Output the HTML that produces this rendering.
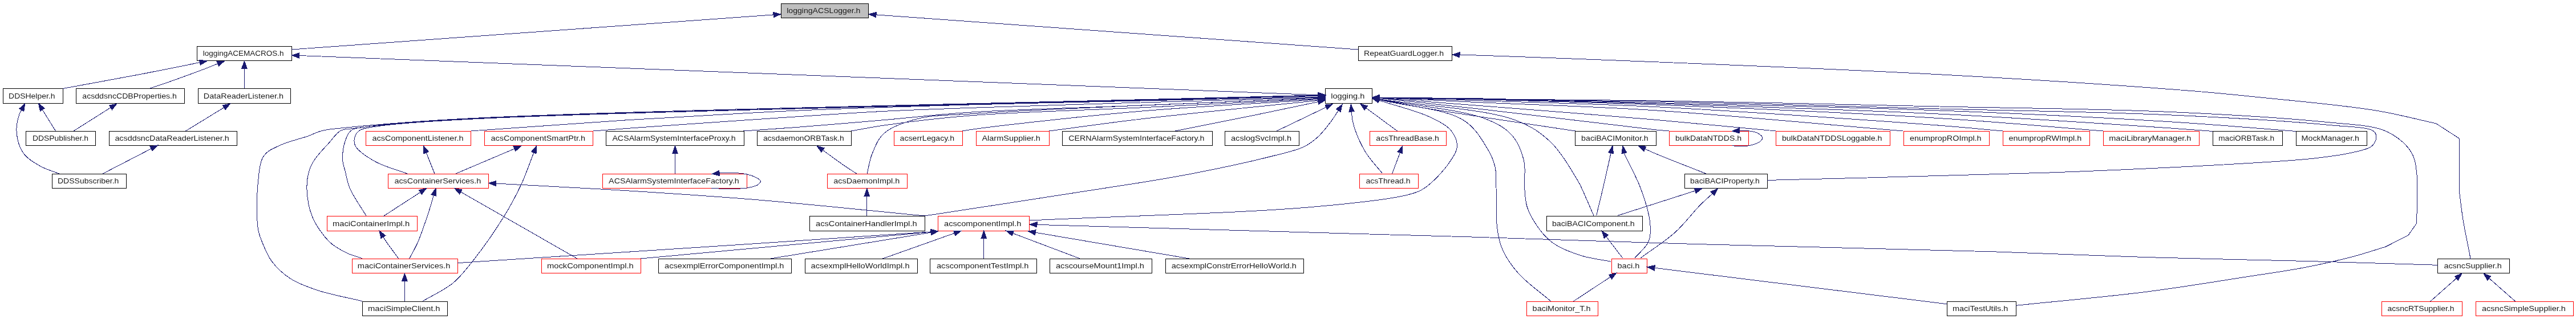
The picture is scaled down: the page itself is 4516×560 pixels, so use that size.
<!DOCTYPE html><html><head><meta charset="utf-8"><style>html,body{margin:0;padding:0;background:#fff;}svg{display:block;will-change:transform;}text{font-family:"Liberation Sans",sans-serif;font-size:12.4px;fill:#1c1c1c;}</style></head><body>
<svg width="4516" height="560" viewBox="0 0 4516 560">
<rect x="0" y="0" width="4516" height="560" fill="#fff"/>
<rect x="1369.1" y="6.4" width="153.5" height="25.2" fill="#bfbfbf" stroke="#000000" stroke-width="1" shape-rendering="crispEdges"/>
<text x="1379.2" y="23.2" textLength="129.2" lengthAdjust="spacingAndGlyphs">loggingACSLogger.h</text>
<rect x="345.2" y="81.1" width="166.0" height="25.2" fill="#ffffff" stroke="#000000" stroke-width="1" shape-rendering="crispEdges"/>
<text x="355.8" y="97.9" textLength="141.8" lengthAdjust="spacingAndGlyphs">loggingACEMACROS.h</text>
<rect x="2381.0" y="81.1" width="164.5" height="25.2" fill="#ffffff" stroke="#000000" stroke-width="1" shape-rendering="crispEdges"/>
<text x="2391.0" y="97.9" textLength="140.0" lengthAdjust="spacingAndGlyphs">RepeatGuardLogger.h</text>
<rect x="5.0" y="155.8" width="105.5" height="25.2" fill="#ffffff" stroke="#000000" stroke-width="1" shape-rendering="crispEdges"/>
<text x="15.1" y="172.6" textLength="81.3" lengthAdjust="spacingAndGlyphs">DDSHelper.h</text>
<rect x="133.2" y="155.8" width="190.3" height="25.2" fill="#ffffff" stroke="#000000" stroke-width="1" shape-rendering="crispEdges"/>
<text x="144.3" y="172.6" textLength="165.6" lengthAdjust="spacingAndGlyphs">acsddsncCDBProperties.h</text>
<rect x="347.2" y="155.8" width="162.5" height="25.2" fill="#ffffff" stroke="#000000" stroke-width="1" shape-rendering="crispEdges"/>
<text x="356.8" y="172.6" textLength="140.3" lengthAdjust="spacingAndGlyphs">DataReaderListener.h</text>
<rect x="2323.5" y="155.8" width="82.0" height="25.2" fill="#ffffff" stroke="#000000" stroke-width="1" shape-rendering="crispEdges"/>
<text x="2333.2" y="172.6" textLength="59.2" lengthAdjust="spacingAndGlyphs">logging.h</text>
<rect x="45.9" y="230.5" width="121.6" height="25.2" fill="#ffffff" stroke="#000000" stroke-width="1" shape-rendering="crispEdges"/>
<text x="57.0" y="247.3" textLength="98.0" lengthAdjust="spacingAndGlyphs">DDSPublisher.h</text>
<rect x="191.3" y="230.5" width="224.0" height="25.2" fill="#ffffff" stroke="#000000" stroke-width="1" shape-rendering="crispEdges"/>
<text x="201.4" y="247.3" textLength="200.3" lengthAdjust="spacingAndGlyphs">acsddsncDataReaderListener.h</text>
<rect x="641.0" y="230.5" width="184.6" height="25.2" fill="#ffffff" stroke="#ff0000" stroke-width="1" shape-rendering="crispEdges"/>
<text x="652.5" y="247.3" textLength="160.0" lengthAdjust="spacingAndGlyphs">acsComponentListener.h</text>
<rect x="849.4" y="230.5" width="190.2" height="25.2" fill="#ffffff" stroke="#ff0000" stroke-width="1" shape-rendering="crispEdges"/>
<text x="860.5" y="247.3" textLength="165.5" lengthAdjust="spacingAndGlyphs">acsComponentSmartPtr.h</text>
<rect x="1062.3" y="230.5" width="241.7" height="25.2" fill="#ffffff" stroke="#000000" stroke-width="1" shape-rendering="crispEdges"/>
<text x="1073.4" y="247.3" textLength="216.3" lengthAdjust="spacingAndGlyphs">ACSAlarmSystemInterfaceProxy.h</text>
<rect x="1327.3" y="230.5" width="165.0" height="25.2" fill="#ffffff" stroke="#000000" stroke-width="1" shape-rendering="crispEdges"/>
<text x="1337.9" y="247.3" textLength="141.8" lengthAdjust="spacingAndGlyphs">acsdaemonORBTask.h</text>
<rect x="1567.5" y="230.5" width="119.5" height="25.2" fill="#ffffff" stroke="#ff0000" stroke-width="1" shape-rendering="crispEdges"/>
<text x="1577.6" y="247.3" textLength="95.4" lengthAdjust="spacingAndGlyphs">acserrLegacy.h</text>
<rect x="1711.3" y="230.5" width="128.2" height="25.2" fill="#ffffff" stroke="#ff0000" stroke-width="1" shape-rendering="crispEdges"/>
<text x="1721.4" y="247.3" textLength="102.5" lengthAdjust="spacingAndGlyphs">AlarmSupplier.h</text>
<rect x="1862.2" y="230.5" width="263.4" height="25.2" fill="#ffffff" stroke="#000000" stroke-width="1" shape-rendering="crispEdges"/>
<text x="1873.3" y="247.3" textLength="238.2" lengthAdjust="spacingAndGlyphs">CERNAlarmSystemInterfaceFactory.h</text>
<rect x="2147.3" y="230.5" width="130.2" height="25.2" fill="#ffffff" stroke="#000000" stroke-width="1" shape-rendering="crispEdges"/>
<text x="2158.0" y="247.3" textLength="106.0" lengthAdjust="spacingAndGlyphs">acslogSvcImpl.h</text>
<rect x="2401.2" y="230.5" width="134.2" height="25.2" fill="#ffffff" stroke="#ff0000" stroke-width="1" shape-rendering="crispEdges"/>
<text x="2412.3" y="247.3" textLength="110.5" lengthAdjust="spacingAndGlyphs">acsThreadBase.h</text>
<rect x="2761.0" y="230.5" width="142.3" height="25.2" fill="#ffffff" stroke="#000000" stroke-width="1" shape-rendering="crispEdges"/>
<text x="2772.1" y="247.3" textLength="117.6" lengthAdjust="spacingAndGlyphs">baciBACIMonitor.h</text>
<rect x="2926.0" y="230.5" width="139.8" height="25.2" fill="#ffffff" stroke="#ff0000" stroke-width="1" shape-rendering="crispEdges"/>
<text x="2937.1" y="247.3" textLength="116.1" lengthAdjust="spacingAndGlyphs">bulkDataNTDDS.h</text>
<rect x="3113.3" y="230.5" width="199.8" height="25.2" fill="#ffffff" stroke="#ff0000" stroke-width="1" shape-rendering="crispEdges"/>
<text x="3123.9" y="247.3" textLength="175.6" lengthAdjust="spacingAndGlyphs">bulkDataNTDDSLoggable.h</text>
<rect x="3337.3" y="230.5" width="149.9" height="25.2" fill="#ffffff" stroke="#ff0000" stroke-width="1" shape-rendering="crispEdges"/>
<text x="3348.0" y="247.3" textLength="125.6" lengthAdjust="spacingAndGlyphs">enumpropROImpl.h</text>
<rect x="3511.0" y="230.5" width="152.3" height="25.2" fill="#ffffff" stroke="#ff0000" stroke-width="1" shape-rendering="crispEdges"/>
<text x="3521.5" y="247.3" textLength="127.7" lengthAdjust="spacingAndGlyphs">enumpropRWImpl.h</text>
<rect x="3687.0" y="230.5" width="168.6" height="25.2" fill="#ffffff" stroke="#ff0000" stroke-width="1" shape-rendering="crispEdges"/>
<text x="3697.2" y="247.3" textLength="144.3" lengthAdjust="spacingAndGlyphs">maciLibraryManager.h</text>
<rect x="3879.1" y="230.5" width="122.2" height="25.2" fill="#ffffff" stroke="#000000" stroke-width="1" shape-rendering="crispEdges"/>
<text x="3889.2" y="247.3" textLength="97.9" lengthAdjust="spacingAndGlyphs">maciORBTask.h</text>
<rect x="4025.0" y="230.5" width="124.6" height="25.2" fill="#ffffff" stroke="#000000" stroke-width="1" shape-rendering="crispEdges"/>
<text x="4034.6" y="247.3" textLength="101.4" lengthAdjust="spacingAndGlyphs">MockManager.h</text>
<rect x="91.3" y="305.2" width="130.2" height="25.2" fill="#ffffff" stroke="#000000" stroke-width="1" shape-rendering="crispEdges"/>
<text x="101.0" y="322.0" textLength="107.4" lengthAdjust="spacingAndGlyphs">DDSSubscriber.h</text>
<rect x="680.3" y="305.2" width="176.1" height="25.2" fill="#ffffff" stroke="#ff0000" stroke-width="1" shape-rendering="crispEdges"/>
<text x="691.4" y="322.0" textLength="151.9" lengthAdjust="spacingAndGlyphs">acsContainerServices.h</text>
<rect x="1056.0" y="305.2" width="253.4" height="25.2" fill="#ffffff" stroke="#ff0000" stroke-width="1" shape-rendering="crispEdges"/>
<text x="1067.1" y="322.0" textLength="228.6" lengthAdjust="spacingAndGlyphs">ACSAlarmSystemInterfaceFactory.h</text>
<rect x="1450.0" y="305.2" width="140.5" height="25.2" fill="#ffffff" stroke="#ff0000" stroke-width="1" shape-rendering="crispEdges"/>
<text x="1461.3" y="322.0" textLength="116.0" lengthAdjust="spacingAndGlyphs">acsDaemonImpl.h</text>
<rect x="2383.3" y="305.2" width="102.9" height="25.2" fill="#ffffff" stroke="#ff0000" stroke-width="1" shape-rendering="crispEdges"/>
<text x="2394.4" y="322.0" textLength="78.2" lengthAdjust="spacingAndGlyphs">acsThread.h</text>
<rect x="2953.5" y="305.2" width="144.9" height="25.2" fill="#ffffff" stroke="#000000" stroke-width="1" shape-rendering="crispEdges"/>
<text x="2963.1" y="322.0" textLength="121.7" lengthAdjust="spacingAndGlyphs">baciBACIProperty.h</text>
<rect x="573.3" y="379.9" width="158.0" height="25.2" fill="#ffffff" stroke="#ff0000" stroke-width="1" shape-rendering="crispEdges"/>
<text x="582.9" y="396.7" textLength="135.3" lengthAdjust="spacingAndGlyphs">maciContainerImpl.h</text>
<rect x="1419.4" y="379.9" width="201.9" height="25.2" fill="#ffffff" stroke="#000000" stroke-width="1" shape-rendering="crispEdges"/>
<text x="1430.0" y="396.7" textLength="177.6" lengthAdjust="spacingAndGlyphs">acsContainerHandlerImpl.h</text>
<rect x="1644.5" y="379.9" width="159.5" height="25.2" fill="#ffffff" stroke="#ff0000" stroke-width="1" shape-rendering="crispEdges"/>
<text x="1655.0" y="396.7" textLength="135.3" lengthAdjust="spacingAndGlyphs">acscomponentImpl.h</text>
<rect x="2711.3" y="379.9" width="168.1" height="25.2" fill="#ffffff" stroke="#000000" stroke-width="1" shape-rendering="crispEdges"/>
<text x="2720.9" y="396.7" textLength="144.8" lengthAdjust="spacingAndGlyphs">baciBACIComponent.h</text>
<rect x="617.2" y="454.6" width="185.2" height="25.2" fill="#ffffff" stroke="#ff0000" stroke-width="1" shape-rendering="crispEdges"/>
<text x="626.8" y="471.4" textLength="162.5" lengthAdjust="spacingAndGlyphs">maciContainerServices.h</text>
<rect x="949.3" y="454.6" width="174.1" height="25.2" fill="#ffffff" stroke="#ff0000" stroke-width="1" shape-rendering="crispEdges"/>
<text x="958.9" y="471.4" textLength="151.9" lengthAdjust="spacingAndGlyphs">mockComponentImpl.h</text>
<rect x="1154.0" y="454.6" width="233.7" height="25.2" fill="#ffffff" stroke="#000000" stroke-width="1" shape-rendering="crispEdges"/>
<text x="1165.1" y="471.4" textLength="209.4" lengthAdjust="spacingAndGlyphs">acsexmplErrorComponentImpl.h</text>
<rect x="1411.4" y="454.6" width="196.8" height="25.2" fill="#ffffff" stroke="#000000" stroke-width="1" shape-rendering="crispEdges"/>
<text x="1421.5" y="471.4" textLength="173.1" lengthAdjust="spacingAndGlyphs">acsexmplHelloWorldImpl.h</text>
<rect x="1630.9" y="454.6" width="186.2" height="25.2" fill="#ffffff" stroke="#000000" stroke-width="1" shape-rendering="crispEdges"/>
<text x="1642.0" y="471.4" textLength="161.5" lengthAdjust="spacingAndGlyphs">acscomponentTestImpl.h</text>
<rect x="1840.3" y="454.6" width="179.2" height="25.2" fill="#ffffff" stroke="#000000" stroke-width="1" shape-rendering="crispEdges"/>
<text x="1851.0" y="471.4" textLength="154.9" lengthAdjust="spacingAndGlyphs">acscourseMount1Impl.h</text>
<rect x="2043.2" y="454.6" width="242.3" height="25.2" fill="#ffffff" stroke="#000000" stroke-width="1" shape-rendering="crispEdges"/>
<text x="2053.8" y="471.4" textLength="219.0" lengthAdjust="spacingAndGlyphs">acsexmplConstrErrorHelloWorld.h</text>
<rect x="2825.4" y="454.6" width="62.1" height="25.2" fill="#ffffff" stroke="#ff0000" stroke-width="1" shape-rendering="crispEdges"/>
<text x="2835.5" y="471.4" textLength="38.9" lengthAdjust="spacingAndGlyphs">baci.h</text>
<rect x="4273.3" y="454.6" width="126.2" height="25.2" fill="#ffffff" stroke="#000000" stroke-width="1" shape-rendering="crispEdges"/>
<text x="4284.4" y="471.4" textLength="101.4" lengthAdjust="spacingAndGlyphs">acsncSupplier.h</text>
<rect x="635.4" y="529.3" width="149.4" height="25.2" fill="#ffffff" stroke="#000000" stroke-width="1" shape-rendering="crispEdges"/>
<text x="645.0" y="546.1" textLength="126.6" lengthAdjust="spacingAndGlyphs">maciSimpleClient.h</text>
<rect x="2676.0" y="529.3" width="125.7" height="25.2" fill="#ffffff" stroke="#ff0000" stroke-width="1" shape-rendering="crispEdges"/>
<text x="2686.6" y="546.1" textLength="102.0" lengthAdjust="spacingAndGlyphs">baciMonitor_T.h</text>
<rect x="3413.4" y="529.3" width="121.1" height="25.2" fill="#ffffff" stroke="#000000" stroke-width="1" shape-rendering="crispEdges"/>
<text x="3423.0" y="546.1" textLength="97.4" lengthAdjust="spacingAndGlyphs">maciTestUtils.h</text>
<rect x="4175.4" y="529.3" width="141.3" height="25.2" fill="#ffffff" stroke="#ff0000" stroke-width="1" shape-rendering="crispEdges"/>
<text x="4185.5" y="546.1" textLength="117.0" lengthAdjust="spacingAndGlyphs">acsncRTSupplier.h</text>
<rect x="4340.4" y="529.3" width="171.1" height="25.2" fill="#ffffff" stroke="#ff0000" stroke-width="1" shape-rendering="crispEdges"/>
<text x="4351.0" y="546.1" textLength="146.9" lengthAdjust="spacingAndGlyphs">acsncSimpleSupplier.h</text>
<g fill="none" stroke="#191970" stroke-width="1" shape-rendering="crispEdges"><path d="M511.0,87.0 L1356.0,25.9"/><path d="M2381.0,87.0 L1536.0,25.9"/><path d="M2323.0,167.3 L524.5,97.5"/><path d="M4331.2,454.6 C4326.8,431.5 4321.3,406.3 4317.9,385.3 C4315.1,367.9 4313.6,353.3 4311.5,337.3 M4311.5,337.3 L4311.5,243.3 M4311.5,243.3 L4270.8,216.8 M4270.8,216.8 C4235.0,209.1 4205.4,200.6 4163.3,193.7 C4104.5,184.1 4009.2,175.8 3950.0,169.7 C3907.8,165.3 3890.2,163.4 3841.5,159.5 C3741.8,151.6 3557.7,139.2 3385.0,130.0 C3158.6,118.0 2697.4,100.7 2600.0,97.4 C2577.8,96.6 2572.7,96.7 2559.0,96.3"/><path d="M110.0,155.5 C156.7,146.9 207.2,137.9 250.0,129.7 C286.3,122.7 316.9,116.3 350.4,109.6"/><path d="M263.2,155.1 C275.1,151.0 285.4,147.7 298.9,142.9 C316.6,136.6 344.8,126.3 360.0,120.5 C369.1,117.0 374.4,114.7 381.6,111.8"/><path d="M428.4,155.0 L428.4,120.0"/><path d="M97.5,230.0 L74.3,192.6"/><path d="M129.0,230.0 L194.0,188.9"/><path d="M325.5,230.0 L392.6,188.8"/><path d="M103.8,305.0 C92.5,300.4 80.5,297.4 70.0,291.3 C59.3,285.1 47.2,278.0 40.4,268.0 C33.4,257.7 29.7,242.0 29.0,230.0 C28.4,219.6 31.8,206.9 34.0,200.4 C35.1,197.0 36.5,195.5 37.8,193.0"/><path d="M180.0,305.0 L265.1,261.0"/><path d="M825.6,230.0 C917.1,223.6 1041.7,214.4 1100.0,210.7 C1127.2,209.0 1133.3,208.8 1160.0,207.3 C1213.3,204.3 1315.5,197.7 1400.0,194.0 C1494.4,189.8 1600.0,186.8 1700.0,184.0 C1800.0,181.2 1899.1,179.3 2000.0,177.0 C2102.6,174.7 2207.0,172.5 2310.5,170.3"/><path d="M1039.6,230.0 C1059.7,228.5 1079.9,226.9 1100.0,225.4 C1120.0,223.9 1133.3,223.0 1160.0,221.1 C1213.3,217.4 1329.4,209.2 1400.0,204.6 C1455.8,200.9 1500.0,197.8 1550.0,195.3 C1600.0,192.8 1641.4,191.5 1700.0,189.4 C1782.8,186.5 1899.1,183.0 2000.0,180.0 C2102.6,177.0 2207.0,174.2 2310.5,171.4"/><path d="M1303.4,230.0 C1335.6,227.7 1364.3,226.0 1400.0,223.2 C1444.5,219.8 1500.0,214.9 1550.0,210.6 C1600.0,206.3 1641.4,201.0 1700.0,197.2 C1782.8,191.8 1899.1,189.2 2000.0,185.1 C2102.6,181.0 2207.0,176.7 2310.5,172.5"/><path d="M1492.3,230.0 C1511.5,226.7 1526.2,223.4 1550.0,220.0 C1588.2,214.5 1641.3,207.7 1700.0,203.0 C1782.8,196.4 1899.1,193.7 2000.0,188.9 C2102.6,184.0 2207.0,178.7 2310.5,173.6"/><path d="M1687.0,230.0 C1698.0,228.3 1703.6,227.1 1720.0,225.0 C1767.7,218.9 1904.2,203.4 2000.0,195.2 C2100.7,186.5 2207.0,181.6 2310.5,174.9"/><path d="M1839.5,230.0 C1893.0,223.0 1937.7,216.3 2000.0,209.0 C2086.5,198.8 2207.0,187.2 2310.6,176.4"/><path d="M2060.0,230.0 C2106.7,220.7 2156.1,211.0 2200.0,202.0 C2239.1,194.0 2273.9,186.5 2310.8,178.7"/><path d="M2238.0,230.0 L2324.9,188.2"/><path d="M2449.6,230.0 L2395.0,189.7"/><path d="M2761.5,230.0 C2674.3,216.7 2562.6,200.7 2500.0,190.0 C2464.8,184.0 2445.2,179.6 2417.8,174.4"/><path d="M2926.0,230.0 C2917.3,229.2 2913.4,229.0 2900.0,227.6 C2854.5,222.8 2687.6,201.9 2600.0,192.0 C2531.8,184.3 2478.6,178.9 2417.9,172.4"/><path d="M3113.0,230.0 C3042.0,223.4 2977.1,216.8 2900.0,210.1 C2808.6,202.2 2687.6,192.9 2600.0,186.0 C2531.8,180.6 2478.6,176.7 2418.0,172.0"/><path d="M3336.4,230.0 C3190.9,217.9 3031.9,202.2 2900.0,193.7 C2790.7,186.7 2687.6,184.0 2600.0,180.0 C2531.8,176.9 2478.7,174.4 2418.0,171.6"/><path d="M3510.5,230.0 C3473.7,226.7 3450.1,224.1 3400.0,220.2 C3293.4,212.0 3045.5,194.8 2900.0,187.5 C2787.3,181.8 2687.6,179.9 2600.0,177.0 C2531.8,174.8 2478.7,173.3 2418.0,171.4"/><path d="M3687.0,230.0 C3591.3,222.5 3508.9,214.4 3400.0,207.6 C3256.4,198.6 3045.5,189.5 2900.0,183.9 C2787.3,179.6 2687.6,177.2 2600.0,175.0 C2531.8,173.3 2478.7,172.5 2418.0,171.3"/><path d="M3879.5,230.5 C3853.0,228.5 3836.7,227.1 3800.0,224.6 C3717.8,219.0 3540.8,207.0 3400.0,200.1 C3242.7,192.4 3045.5,186.5 2900.0,181.9 C2787.3,178.4 2687.6,175.8 2600.0,174.0 C2531.8,172.6 2478.7,172.1 2418.0,171.2"/><path d="M4025.5,230.5 C3950.3,224.8 3885.9,218.8 3800.0,213.5 C3685.7,206.4 3540.8,199.3 3400.0,194.0 C3242.7,188.0 3045.5,184.3 2900.0,180.5 C2787.3,177.6 2687.6,174.5 2600.0,173.0 C2531.8,171.8 2478.7,171.8 2418.0,171.1"/><path d="M715.0,305.3 C696.0,298.1 674.1,292.7 658.0,283.7 C644.4,276.1 628.5,265.4 623.5,257.0 C620.7,252.2 620.5,247.5 621.4,243.0 C622.3,238.3 625.0,232.9 629.6,229.5 C636.1,224.8 645.6,224.3 660.0,222.0 C693.4,216.6 744.7,213.4 829.0,209.0 C1078.3,196.0 1816.7,181.9 2310.5,168.4"/><path d="M762.0,305.0 L747.3,268.1"/><path d="M798.7,305.0 L902.0,261.1"/><path d="M1183.5,305.0 L1183.5,269.0"/><path d="M1502.0,305.0 C1494.3,300.0 1487.5,295.8 1479.0,290.0 C1468.2,282.5 1454.7,272.4 1442.5,263.6"/><path d="M1520.0,305.0 C1523.0,293.3 1524.3,281.4 1529.0,270.0 C1534.0,257.7 1539.0,243.7 1550.0,234.0 C1563.8,221.8 1587.5,213.9 1610.0,208.2 C1636.5,201.5 1661.2,202.7 1700.0,200.0 C1770.7,195.0 1899.1,189.5 2000.0,185.0 C2102.6,180.4 2207.0,176.7 2310.5,172.5"/><path d="M2423.5,304.4 C2414.3,293.0 2403.7,282.2 2396.0,270.3 C2388.7,259.1 2382.6,246.1 2378.3,235.2 C2374.8,226.3 2372.2,217.3 2370.8,210.1 C2369.8,204.8 2369.9,200.7 2369.5,195.9"/><path d="M2440.5,305.0 L2454.4,268.2"/><path d="M2991.0,305.0 C2961.7,293.3 2921.6,277.9 2903.0,270.0 C2894.2,266.3 2890.2,264.2 2883.8,261.4"/><path d="M3098.4,316.4 C3265.6,311.9 3447.8,308.5 3600.0,302.8 C3727.2,298.0 3867.0,291.1 3950.0,286.0 C3995.8,283.2 4024.9,281.6 4056.6,278.0 C4082.3,275.1 4107.4,271.8 4126.0,267.3 C4138.9,264.2 4151.4,262.3 4158.0,256.6 C4162.8,252.4 4166.0,245.4 4166.0,240.6 C4166.0,236.7 4164.7,232.9 4160.6,230.0 C4149.9,222.4 4116.4,222.8 4082.0,219.4 C4017.1,213.0 3902.2,206.3 3800.0,201.7 C3678.3,196.3 3540.8,194.7 3400.0,191.0 C3242.6,186.9 3065.1,181.3 2900.0,178.2 C2737.9,175.1 2578.7,174.2 2418.0,172.2"/><path d="M3534.2,536.3 C3610.6,528.3 3692.2,521.3 3763.4,512.2 C3825.9,504.2 3888.8,493.6 3939.0,485.8 C3976.7,480.0 4006.3,476.1 4038.0,470.0 C4067.6,464.3 4097.6,457.6 4123.3,450.9 C4144.8,445.3 4162.4,439.2 4182.0,433.3 M4182.0,433.3 L4221.9,413.0 M4221.9,413.0 L4236.8,391.7 M4236.8,391.7 C4236.8,362.7 4239.1,326.4 4236.8,304.6 C4235.4,291.2 4234.4,282.1 4230.0,272.6 C4225.8,263.5 4219.3,255.7 4211.3,248.6 C4202.0,240.4 4191.3,232.9 4176.0,227.6 C4152.8,219.5 4121.8,218.7 4082.0,214.7 C4013.3,207.8 3902.2,200.8 3800.0,196.3 C3678.3,190.9 3540.8,190.1 3400.0,187.0 C3242.6,183.6 3065.1,179.3 2900.0,176.8 C2737.9,174.4 2578.7,173.7 2418.0,172.1"/><path d="M641.8,378.6 C632.3,362.6 619.5,345.1 613.3,330.5 C608.7,319.5 607.2,308.6 605.0,300.0 C603.4,293.7 601.5,289.9 601.0,283.7 C600.3,275.5 600.6,264.1 603.0,255.0 C605.3,246.0 608.6,234.8 615.0,229.5 C621.1,224.4 627.6,225.1 640.0,223.0 C673.5,217.4 736.1,213.3 829.0,208.5 C1088.8,195.0 1816.7,181.4 2310.5,167.9"/><path d="M672.4,379.4 L736.8,337.6"/><path d="M1519.8,379.0 L1519.8,344.0"/><path d="M1621.0,379.0 C1520.7,369.4 1415.8,358.1 1320.0,350.2 C1232.7,343.0 1148.2,337.8 1069.4,332.9 C999.0,328.6 936.2,325.7 869.6,322.1"/><path d="M1621.0,379.0 C1748.3,359.3 1917.7,334.1 2003.0,320.0 C2046.0,312.9 2065.7,309.7 2100.0,302.9 C2139.2,295.1 2191.3,284.0 2225.4,275.3 C2249.2,269.2 2270.3,265.1 2285.6,257.8 C2296.3,252.7 2302.7,247.5 2310.6,240.2 C2319.5,232.0 2329.3,218.8 2335.7,210.1 C2340.2,204.0 2342.7,199.3 2346.2,193.9"/><path d="M1805.0,387.0 C1970.0,379.1 2178.5,374.1 2300.0,363.4 C2371.3,357.1 2436.1,350.5 2469.0,341.7 C2483.2,337.9 2488.5,336.2 2498.5,329.4 C2512.3,319.9 2531.4,299.2 2541.0,285.2 C2547.9,275.0 2554.3,265.5 2554.5,255.9 C2554.7,246.8 2550.2,237.0 2543.8,229.2 C2535.8,219.5 2522.2,212.8 2506.5,205.3 C2483.7,194.5 2447.1,185.8 2417.4,176.1"/><path d="M2798.6,378.4 C2802.5,362.3 2806.3,347.1 2810.3,330.0 C2814.8,310.8 2819.5,289.1 2824.1,268.7"/><path d="M2793.9,378.4 C2786.8,362.3 2777.5,340.1 2772.7,330.0 C2770.5,325.3 2770.4,324.6 2767.5,319.8 C2759.8,306.8 2738.9,269.0 2719.6,250.5 C2701.3,233.0 2685.3,221.6 2655.7,210.6 C2602.8,191.0 2497.1,186.2 2417.8,174.0"/><path d="M2836.0,378.4 L2971.6,335.0"/><path d="M635.3,453.8 C626.1,450.5 616.9,448.5 607.8,444.0 C597.8,439.1 587.1,433.8 578.0,425.0 C566.8,414.2 554.7,397.2 548.0,381.5 C541.5,366.3 538.6,347.3 538.0,332.6 C537.5,320.7 539.2,309.4 542.0,300.0 C544.3,292.2 547.3,286.7 552.0,279.6 C558.0,270.5 568.7,259.8 576.6,251.0 C583.6,243.2 589.5,233.6 597.0,229.5 C603.2,226.1 606.7,227.2 617.0,225.8 C650.2,221.4 726.3,213.7 829.0,208.0 C1100.0,192.9 1816.7,180.9 2310.5,167.4"/><path d="M698.8,453.8 C691.7,444.2 682.3,431.9 677.6,425.0 C675.0,421.2 673.8,419.0 671.9,416.0"/><path d="M717.8,453.8 C722.7,444.2 727.7,436.3 732.6,425.0 C739.1,410.0 746.8,386.4 751.8,371.3 C755.4,360.4 757.5,352.4 760.3,343.0"/><path d="M802.4,461.6 C968.3,450.8 1150.9,439.2 1300.0,429.3 C1421.8,421.2 1521.4,414.4 1632.0,406.9"/><path d="M1011.9,454.0 L807.9,337.0"/><path d="M1123.4,454.0 L1632.1,407.2"/><path d="M1351.0,454.0 L1632.2,408.1"/><path d="M1547.6,454.0 L1673.2,409.4"/><path d="M1724.8,454.0 L1724.8,418.0"/><path d="M1893.3,454.0 L1775.8,409.6"/><path d="M2085.0,454.0 L1815.3,408.2"/><path d="M2824.4,459.3 C2805.6,455.4 2786.0,453.8 2768.0,447.5 C2750.0,441.2 2730.9,434.3 2716.3,421.7 C2700.7,408.2 2685.6,384.8 2678.7,367.6 C2673.4,354.6 2673.9,343.3 2672.7,330.0 C2671.3,315.1 2675.2,297.8 2671.6,282.5 C2667.9,266.8 2661.3,249.4 2650.3,237.2 C2638.7,224.3 2624.6,216.5 2602.4,208.0 C2561.8,192.5 2479.3,185.6 2417.8,174.3"/><path d="M2844.6,453.0 L2815.9,415.5"/><path d="M2865.8,453.1 C2873.9,443.4 2885.8,434.8 2890.2,424.0 C2894.3,413.9 2893.8,403.6 2892.6,391.0 C2890.9,373.6 2883.4,349.9 2876.0,330.0 C2868.5,309.6 2849.2,275.0 2847.6,270.0 C2847.4,269.3 2847.4,269.2 2847.4,268.8"/><path d="M2876.0,453.0 C2896.3,437.9 2919.1,423.8 2937.0,407.6 C2953.4,392.8 2967.8,372.9 2980.0,360.6 C2988.4,352.1 2994.7,346.8 3002.1,339.9"/><path d="M4273.6,465.3 C4199.1,463.1 4129.2,460.8 4050.0,458.6 C3960.4,456.2 3856.9,454.4 3763.4,451.6 C3673.7,448.9 3602.6,445.2 3500.0,442.0 C3355.9,437.5 3142.0,433.3 2980.0,428.7 C2837.9,424.6 2687.1,419.2 2580.0,416.0 C2508.2,413.9 2477.1,413.2 2400.0,411.0 C2261.3,407.1 2012.0,399.9 1818.0,394.4"/><path d="M1247.4,330.5 C1249.7,330.6 1251.0,330.8 1254.3,330.9 C1262.9,331.1 1291.6,331.4 1300.9,330.9 C1304.9,330.7 1306.1,330.7 1309.5,330.0 C1314.6,329.0 1324.4,327.3 1328.4,324.5 C1331.0,322.6 1333.7,319.8 1333.3,317.6 C1332.8,314.8 1325.7,311.8 1321.6,309.8 C1317.7,307.9 1314.2,307.0 1309.5,306.0 C1303.2,304.7 1294.3,303.8 1287.0,303.4 C1280.0,303.0 1271.0,303.1 1266.4,303.4 C1264.0,303.5 1261.0,304.0 1261.0,304.0 C1261.0,304.0 1261.2,304.0 1261.2,304.0"/><path d="M3036.8,255.5 C3037.9,255.7 3038.6,255.8 3040.0,256.0 C3042.4,256.3 3046.4,257.0 3050.2,257.0 C3055.2,257.0 3061.7,256.7 3067.4,255.4 C3073.4,254.0 3081.7,251.8 3085.4,248.7 C3087.8,246.7 3090.0,243.9 3089.7,241.6 C3089.3,238.9 3084.9,235.7 3081.5,233.8 C3077.5,231.6 3071.6,230.6 3066.6,229.9 C3061.7,229.2 3054.3,229.8 3051.7,229.6 C3050.8,229.5 3050.2,229.3 3049.8,229.3 C3049.6,229.3 3049.5,229.3 3049.4,229.3"/><path d="M709.4,528.7 L709.4,493.0"/><path d="M635.3,528.7 C609.2,522.4 579.7,517.3 557.0,509.7 C538.5,503.5 522.1,497.6 508.3,488.5 C495.8,480.3 484.8,469.9 476.6,458.9 C468.9,448.6 463.8,435.4 459.6,425.0 C456.3,416.7 454.0,412.0 452.4,401.8 C449.5,383.0 449.9,343.3 452.4,320.0 C454.3,302.2 455.0,284.6 462.6,273.5 C469.0,264.2 479.8,260.4 491.0,255.0 C504.8,248.4 526.5,243.7 540.0,238.9 C549.6,235.5 555.3,231.8 564.4,229.5 C575.2,226.7 583.5,226.4 601.0,224.6 C644.4,220.1 719.7,213.1 829.0,207.5 C1107.2,193.3 1816.7,180.4 2310.5,166.9"/><path d="M741.0,528.7 C758.7,518.1 778.8,509.5 794.0,497.0 C808.2,485.3 817.3,472.7 830.0,456.7 C846.7,435.6 868.7,404.0 883.5,380.0 C895.8,360.1 905.2,342.3 914.0,323.3 C922.5,305.0 928.5,286.5 935.7,268.1"/><path d="M2758.3,529.0 L2823.2,486.2"/><path d="M2719.0,529.0 C2700.0,512.7 2676.8,496.7 2662.0,480.0 C2649.9,466.3 2640.2,452.2 2634.0,438.0 C2628.5,425.6 2626.7,415.1 2624.7,400.5 C2622.1,380.8 2623.8,349.7 2623.0,330.0 C2622.4,315.7 2623.7,304.6 2621.0,293.0 C2618.4,281.8 2614.6,272.5 2607.7,261.2 C2598.2,245.6 2586.5,223.9 2565.0,210.6 C2532.5,190.5 2466.8,186.9 2417.6,175.0"/><path d="M3413.0,533.7 L2900.8,470.3"/><path d="M4260.7,529.0 L4306.3,488.6"/><path d="M4409.6,529.0 L4363.8,488.6"/></g>
<g fill="#191970" stroke="#191970" stroke-width="1" shape-rendering="crispEdges"><polygon points="1369.0,25.0 1356.4,30.5 1355.7,21.3"/><polygon points="1523.0,25.0 1536.3,21.3 1535.6,30.5"/><polygon points="511.5,97.0 524.7,92.9 524.3,102.1"/><polygon points="2546.0,96.0 2559.1,91.7 2558.9,100.9"/><polygon points="363.1,107.0 351.3,114.1 349.4,105.0"/><polygon points="393.7,107.0 383.3,116.1 379.9,107.6"/><polygon points="428.4,107.0 433.0,120.0 423.8,120.0"/><polygon points="67.5,181.5 78.3,190.1 70.4,195.0"/><polygon points="205.0,182.0 196.5,192.8 191.6,185.1"/><polygon points="403.7,182.0 395.0,192.7 390.2,184.9"/><polygon points="43.8,181.5 41.9,195.2 33.7,190.9"/><polygon points="276.6,255.0 267.2,265.1 262.9,256.9"/><polygon points="2323.5,170.0 2310.6,174.9 2310.4,165.7"/><polygon points="2323.5,171.0 2310.6,176.0 2310.4,166.8"/><polygon points="2323.5,172.0 2310.7,177.1 2310.3,167.9"/><polygon points="2323.5,173.0 2310.7,178.2 2310.3,169.0"/><polygon points="2323.5,174.0 2310.8,179.4 2310.2,170.3"/><polygon points="2323.5,175.0 2311.1,180.9 2310.1,171.8"/><polygon points="2323.5,176.0 2311.7,183.2 2309.8,174.2"/><polygon points="2336.6,182.6 2326.9,192.4 2322.9,184.1"/><polygon points="2384.5,182.0 2397.7,186.0 2392.2,193.4"/><polygon points="2405.0,172.0 2418.6,169.9 2416.9,178.9"/><polygon points="2405.0,171.0 2418.4,167.8 2417.4,177.0"/><polygon points="2405.0,171.0 2418.3,167.4 2417.6,176.6"/><polygon points="2405.0,171.0 2418.2,167.0 2417.8,176.2"/><polygon points="2405.0,171.0 2418.1,166.8 2417.9,176.0"/><polygon points="2405.0,171.0 2418.1,166.7 2417.9,175.9"/><polygon points="2405.0,171.0 2418.1,166.6 2417.9,175.8"/><polygon points="2405.0,171.0 2418.0,166.5 2418.0,175.7"/><polygon points="2323.5,168.0 2310.6,173.0 2310.4,163.8"/><polygon points="742.5,256.0 751.6,266.4 743.0,269.8"/><polygon points="914.0,256.0 903.8,265.3 900.2,256.9"/><polygon points="1183.5,256.0 1188.1,269.0 1178.9,269.0"/><polygon points="1432.0,256.0 1445.2,259.9 1439.8,267.3"/><polygon points="2323.5,172.0 2310.7,177.1 2310.3,167.9"/><polygon points="2368.3,183.0 2374.1,195.5 2364.9,196.4"/><polygon points="2459.0,256.0 2458.7,269.8 2450.1,266.5"/><polygon points="2872.0,256.0 2885.7,257.2 2882.0,265.5"/><polygon points="2405.0,172.0 2418.1,167.6 2417.9,176.8"/><polygon points="2405.0,172.0 2418.0,167.5 2418.0,176.7"/><polygon points="2323.5,167.5 2310.6,172.5 2310.4,163.3"/><polygon points="747.7,330.5 739.3,341.4 734.3,333.7"/><polygon points="1519.8,331.0 1524.4,344.0 1515.2,344.0"/><polygon points="856.6,321.4 869.8,317.5 869.3,326.7"/><polygon points="2353.3,183.0 2350.1,196.4 2342.4,191.4"/><polygon points="2405.0,172.0 2418.8,171.7 2415.9,180.4"/><polygon points="2827.0,256.0 2828.6,269.7 2819.7,267.7"/><polygon points="2405.0,172.0 2418.5,169.4 2417.1,178.5"/><polygon points="2984.0,331.0 2973.0,339.3 2970.2,330.6"/><polygon points="2323.5,167.0 2310.6,172.0 2310.4,162.8"/><polygon points="665.0,405.0 675.8,413.5 668.0,418.5"/><polygon points="764.0,330.5 764.7,344.3 755.9,341.6"/><polygon points="1645.0,406.0 1632.3,411.5 1631.7,402.3"/><polygon points="796.6,330.5 810.2,333.0 805.6,341.0"/><polygon points="1645.0,406.0 1632.5,411.8 1631.6,402.6"/><polygon points="1645.0,406.0 1632.9,412.6 1631.4,403.6"/><polygon points="1685.4,405.0 1674.7,413.7 1671.6,405.0"/><polygon points="1724.8,405.0 1729.4,418.0 1720.2,418.0"/><polygon points="1763.6,405.0 1777.4,405.3 1774.1,413.9"/><polygon points="1802.5,406.0 1816.1,403.6 1814.5,412.7"/><polygon points="2405.0,172.0 2418.6,169.8 2417.0,178.9"/><polygon points="2808.0,405.2 2819.6,412.7 2812.3,418.3"/><polygon points="2845.0,256.0 2851.9,267.9 2842.9,269.6"/><polygon points="3011.6,331.0 3005.3,343.2 2999.0,336.5"/><polygon points="1805.0,394.0 1818.1,389.8 1817.9,399.0"/><polygon points="1248.3,305.2 1260.8,299.4 1261.7,308.6"/><polygon points="3036.4,230.2 3049.1,224.7 3049.7,233.9"/><polygon points="709.4,480.0 714.0,493.0 704.8,493.0"/><polygon points="2323.5,166.5 2310.6,171.5 2310.4,162.3"/><polygon points="940.5,256.0 940.0,269.8 931.5,266.4"/><polygon points="2834.0,479.0 2825.7,490.0 2820.6,482.3"/><polygon points="2405.0,172.0 2418.7,170.6 2416.6,179.5"/><polygon points="2887.9,468.7 2901.4,465.7 2900.2,474.9"/><polygon points="4316.0,480.0 4309.3,492.1 4303.2,485.2"/><polygon points="4354.0,480.0 4366.8,485.1 4360.7,492.0"/></g>
</svg></body></html>
